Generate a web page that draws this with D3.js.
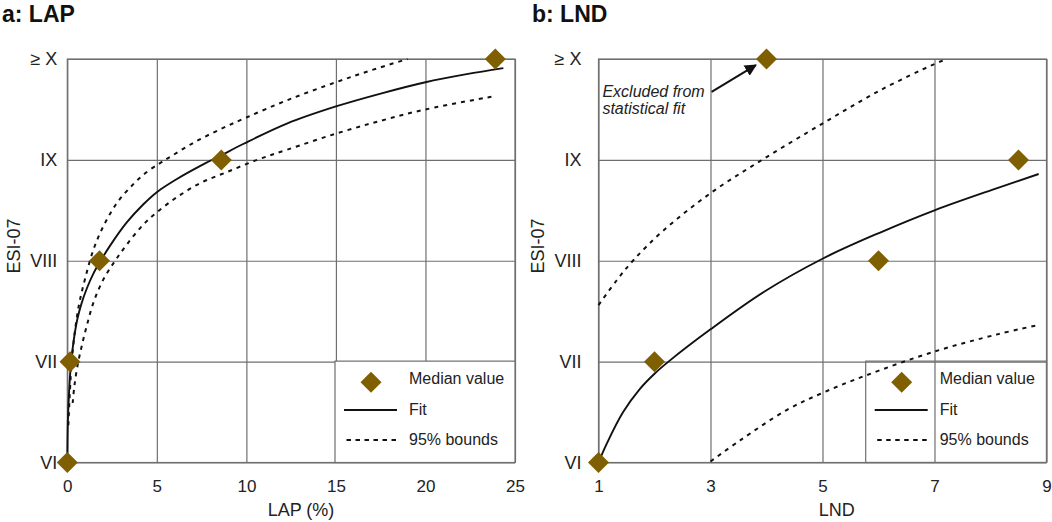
<!DOCTYPE html>
<html>
<head>
<meta charset="utf-8">
<script src="https://cdn.jsdelivr.net/npm/d3@7"></script>
<style>
  html, body { margin: 0; padding: 0; background: #fff; }
  svg { display: block; font-family: "Liberation Sans", Arial, Helvetica, sans-serif; }
</style>
</head>
<body>
<svg id="chart" width="1052" height="522"></svg>
<script>
// ---------- data ----------
const yTickValues = [6, 7, 8, 9, 10];
const yTickLabels = ["VI", "VII", "VIII", "IX", "\u2265 X"];

// Panel a: LAP (%)
const lapTicks = [0, 5, 10, 15, 20, 25];
const lapMedianX = [0, 0.15, 1.8, 8.6, 23.9];
const lapMedianY = [6, 7, 8, 9, 10];
const lapFitX = [0, 0.03, 0.1, 0.2, 0.35, 0.56, 0.8, 1.1, 1.45, 1.83, 2.39, 3.32, 4.25, 5.0, 6.12, 7.43, 8.54, 9.85, 12.26, 15, 17.55, 20, 22.3, 24.35];
const lapFitY = [6, 6.4, 6.7, 6.97, 7.2, 7.42, 7.58, 7.73, 7.87, 7.99, 8.15, 8.38, 8.56, 8.68, 8.81, 8.94, 9.04, 9.16, 9.36, 9.53, 9.66, 9.77, 9.85, 9.91];
const lapUpperX = [0.06, 0.15, 0.24, 0.43, 0.67, 0.99, 1.46, 2.01, 2.76, 3.69, 4.44, 5.2, 5.75, 7.05, 8.5, 10, 12.26, 15, 17, 19.0];
const lapUpperY = [6.37, 6.72, 6.98, 7.31, 7.58, 7.82, 8.11, 8.34, 8.57, 8.76, 8.88, 8.97, 9.03, 9.17, 9.30, 9.42, 9.59, 9.77, 9.89, 10.0];
const lapLowerX = [0.3, 0.39, 0.56, 0.8, 1.08, 1.45, 2.0, 2.67, 3.32, 4.25, 5.0, 6.12, 7.43, 8.92, 10.6, 12.26, 15, 17.55, 20, 23.8];
const lapLowerY = [6.59, 6.75, 6.95, 7.15, 7.35, 7.58, 7.81, 8.0, 8.16, 8.36, 8.48, 8.63, 8.77, 8.88, 9.0, 9.10, 9.26, 9.39, 9.50, 9.63];

// Panel b: LND
const lndTicks = [1, 3, 5, 7, 9];
const lndMedianX = [1, 2, 4, 6, 8.5];
const lndMedianY = [6, 7, 10, 8, 9];
const lndFitX = [1, 1.15, 1.44, 1.74, 2.0, 2.25, 3.0, 3.95, 5.0, 6.03, 7.0, 8.12, 8.86];
const lndFitY = [6, 6.19, 6.5, 6.73, 6.88, 7.0, 7.32, 7.69, 8.02, 8.28, 8.50, 8.72, 8.86];
const lndUpperX = [1, 1.33, 1.63, 2.16, 3.0, 3.95, 5.0, 6.03, 7.0, 7.22];
const lndUpperY = [7.56, 7.81, 8.01, 8.30, 8.67, 9.01, 9.36, 9.69, 9.95, 10.0];
const lndLowerX = [3.0, 3.53, 4.36, 5.0, 5.76, 7.0, 8.12, 8.83];
const lndLowerY = [6.01, 6.22, 6.52, 6.69, 6.86, 7.10, 7.27, 7.36];

const legendLabels = ["Median value", "Fit", "95% bounds"];
const annotationLines = ["Excluded from", "statistical fit"];

// ---------- drawing ----------
const svg = d3.select("#chart");
const GRID = "#6f6f6f";
const DIAMOND = "#7f5f00";

const zip = (xs, ys) => xs.map((x, i) => [x, ys[i]]);

function diamondPath(cx, cy, r) {
  return `M${cx},${cy - r}L${cx + r},${cy}L${cx},${cy + r}L${cx - r},${cy}Z`;
}

function drawPanel(cfg) {
  const g = svg.append("g");
  const x = d3.scaleLinear().domain(cfg.xDomain).range([cfg.left, cfg.right]);
  const y = d3.scaleLinear().domain([6, 10]).range([462.5, 59]);

  // vertical grid + x tick labels
  g.append("g")
    .attr("transform", `translate(0,${y(6)})`)
    .call(d3.axisBottom(x).tickValues(cfg.xTicks).tickSize(-(y(6) - y(10))).tickSizeOuter(0).tickPadding(17).tickFormat(d3.format("d")))
    .call(a => a.select(".domain").remove())
    .call(a => a.selectAll("line").attr("stroke", GRID).attr("stroke-width", 1.2))
    .call(a => a.selectAll("text").attr("font-size", 17).attr("fill", "#222").attr("font-family", "Liberation Sans, Arial, sans-serif"));

  // horizontal grid + y tick labels
  g.append("g")
    .attr("transform", `translate(${x(cfg.xDomain[0])},0)`)
    .call(d3.axisLeft(y).tickValues(yTickValues).tickSize(-(cfg.right - cfg.left)).tickSizeOuter(0).tickPadding(cfg.yPad).tickFormat((d, i) => yTickLabels[i]))
    .call(a => a.select(".domain").remove())
    .call(a => a.selectAll("line").attr("stroke", GRID).attr("stroke-width", 1.2))
    .call(a => a.selectAll("text").attr("font-size", 18).attr("fill", "#222").attr("font-family", "Liberation Sans, Arial, sans-serif"));

  // border
  g.append("rect")
    .attr("x", cfg.left).attr("y", y(10))
    .attr("width", cfg.right - cfg.left).attr("height", y(6) - y(10))
    .attr("fill", "none").attr("stroke", GRID).attr("stroke-width", 1.2);

  const line = d3.line().x(d => x(d[0])).y(d => y(d[1])).curve(d3.curveCatmullRom.alpha(0.5));

  const lg = { left: cfg.legendLeft, right: cfg.right, top: y(7) - 0.5, bottom: y(6) };

  function drawLegendBox() {
    g.append("rect")
      .attr("x", lg.left).attr("y", lg.top)
      .attr("width", lg.right - lg.left).attr("height", lg.bottom - lg.top)
      .attr("fill", cfg.legendOpaque ? "#fff" : "none")
      .attr("stroke", GRID).attr("stroke-width", 1.2);
  }

  if (!cfg.legendOpaque) drawLegendBox();

  g.append("path").datum(zip(cfg.upperX, cfg.upperY)).attr("d", line)
    .attr("fill", "none").attr("stroke", "#111").attr("stroke-width", 2).attr("stroke-dasharray", "4,5");
  g.append("path").datum(zip(cfg.lowerX, cfg.lowerY)).attr("d", line)
    .attr("fill", "none").attr("stroke", "#111").attr("stroke-width", 2).attr("stroke-dasharray", "4,5");
  g.append("path").datum(zip(cfg.fitX, cfg.fitY)).attr("d", line)
    .attr("fill", "none").attr("stroke", "#111").attr("stroke-width", 1.9);

  g.selectAll("path.med").data(zip(cfg.medX, cfg.medY)).enter().append("path")
    .attr("class", "med")
    .attr("d", d => diamondPath(x(d[0]), y(d[1]), 10.5))
    .attr("fill", DIAMOND);

  if (cfg.legendOpaque) drawLegendBox();

  // legend contents
  const L = lg.left;
  g.append("path").attr("d", diamondPath(L + 36, 382.3, 10.5)).attr("fill", DIAMOND);
  g.append("line").attr("x1", L + 9).attr("x2", L + 62).attr("y1", 410).attr("y2", 410)
    .attr("stroke", "#111").attr("stroke-width", 2);
  g.append("line").attr("x1", L + 11.5).attr("x2", L + 62).attr("y1", 440).attr("y2", 440)
    .attr("stroke", "#111").attr("stroke-width", 2).attr("stroke-dasharray", "4.5,4.5");
  const lbY = [384.3, 415, 445];
  legendLabels.forEach((t, i) => {
    g.append("text").attr("x", L + 74).attr("y", lbY[i]).attr("font-size", 16).attr("fill", "#222").text(t);
  });

  // axis titles
  g.append("text").attr("transform", `translate(${cfg.yTitleX},246) rotate(-90)`)
    .attr("text-anchor", "middle").attr("font-size", 18).attr("fill", "#222").text("ESI-07");
  g.append("text").attr("x", cfg.xTitleX).attr("y", 516)
    .attr("text-anchor", "middle").attr("font-size", 18).attr("fill", "#222").text(cfg.xTitle);

  // panel title
  g.append("text").attr("x", cfg.titleX).attr("y", 22)
    .attr("font-size", 23).attr("font-weight", "bold").attr("fill", "#111").text(cfg.title);

  return { g, x, y };
}

drawPanel({
  xDomain: [0, 25], left: 67.3, right: 515, xTicks: lapTicks, yPad: 10,
  fitX: lapFitX, fitY: lapFitY, upperX: lapUpperX, upperY: lapUpperY, lowerX: lapLowerX, lowerY: lapLowerY,
  medX: lapMedianX, medY: lapMedianY,
  legendLeft: 335, legendOpaque: true,
  yTitleX: 20, xTitleX: 301, xTitle: "LAP (%)", titleX: 2, title: "a: LAP"
});

const pb = drawPanel({
  xDomain: [1, 9], left: 598.5, right: 1046.5, xTicks: lndTicks, yPad: 17,
  fitX: lndFitX, fitY: lndFitY, upperX: lndUpperX, upperY: lndUpperY, lowerX: lndLowerX, lowerY: lndLowerY,
  medX: lndMedianX, medY: lndMedianY,
  legendLeft: 865.7, legendOpaque: false,
  yTitleX: 543.5, xTitleX: 836.7, xTitle: "LND", titleX: 532, title: "b: LND"
});

// annotation in panel b
const ax = pb.x, ay = pb.y;
svg.append("defs").append("marker")
  .attr("id", "arrow").attr("viewBox", "0 0 10 10").attr("refX", 9).attr("refY", 5)
  .attr("markerWidth", 6).attr("markerHeight", 6).attr("orient", "auto")
  .append("path").attr("d", "M0,0L10,5L0,10Z").attr("fill", "#111");
pb.g.append("line")
  .attr("x1", ax(3.02)).attr("y1", ay(9.675))
  .attr("x2", ax(3.81)).attr("y2", ay(9.94))
  .attr("stroke", "#111").attr("stroke-width", 2).attr("marker-end", "url(#arrow)");
const annY = [9.625, 9.454];
annotationLines.forEach((t, i) => {
  pb.g.append("text").attr("x", ax(1.07)).attr("y", ay(annY[i]))
    .attr("font-size", 16).attr("font-style", "italic").attr("fill", "#222").text(t);
});
</script>
</body>
</html>
